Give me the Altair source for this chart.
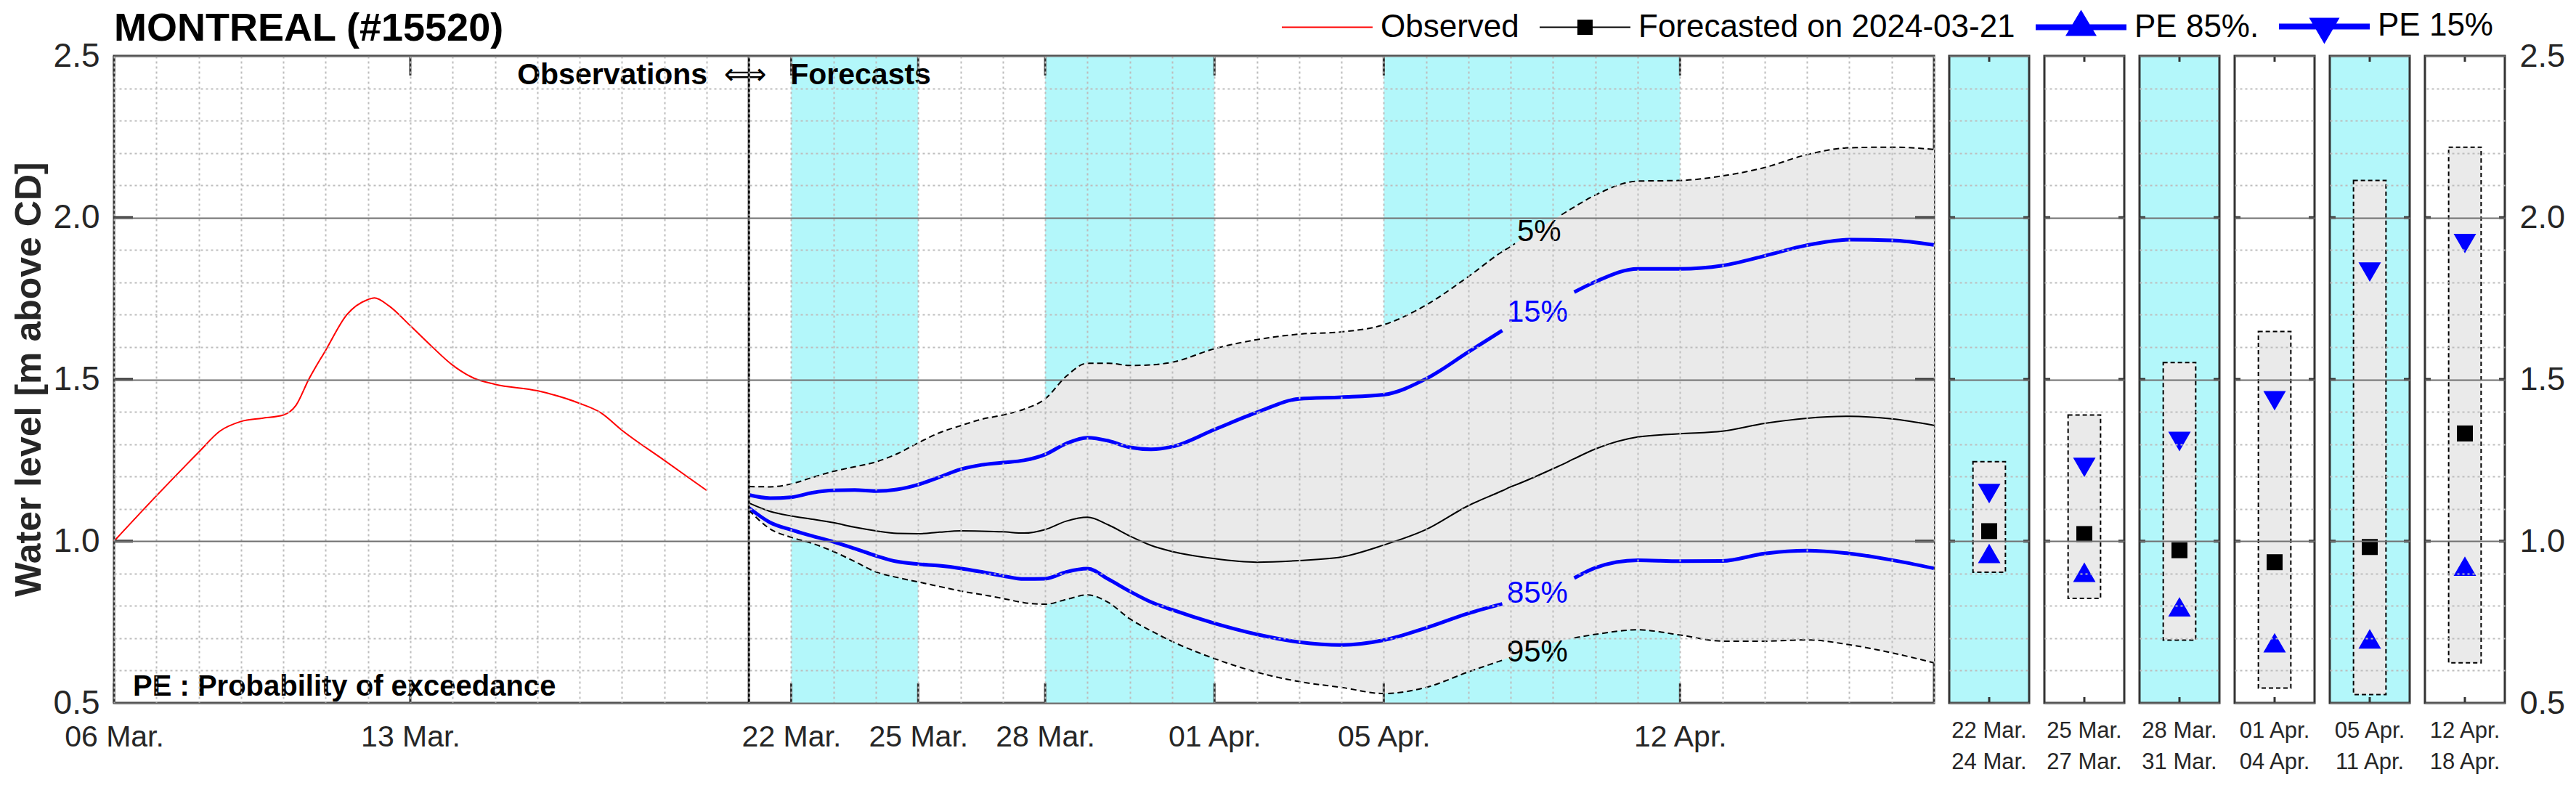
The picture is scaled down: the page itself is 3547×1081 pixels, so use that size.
import json
import altair as alt
import pandas as pd

# ---------------- data ----------------
START = "2024-03-06"          # day 0 of the time axis
FORECAST_DAY = 15             # 21 Mar (forecast issue date)

obs_day = [0, 1, 2, 2.5, 3, 3.5, 4, 4.3, 4.6, 5, 5.5, 6, 6.15, 6.5, 7, 7.5, 8, 8.5, 9, 10, 11, 11.5, 12, 13, 14]
obs_level = [1.00, 1.14, 1.275, 1.34, 1.37, 1.38, 1.39, 1.42, 1.50, 1.59, 1.70, 1.747, 1.752, 1.727, 1.666,
             1.603, 1.544, 1.504, 1.485, 1.465, 1.426, 1.397, 1.343, 1.25, 1.157]

fc_day = [15, 15.5, 16, 16.5, 17, 17.5, 18, 18.5, 19, 19.5, 20, 20.5, 21, 21.5, 22, 22.5, 23, 23.5, 24, 24.5, 25,
          26, 27, 28, 29, 30, 31, 32, 32.8, 33, 33.1, 34, 34.2, 34.5, 35, 36, 37, 38, 39, 40, 41, 42, 43]
pe5 = [1.169, 1.168, 1.177, 1.197, 1.216, 1.230, 1.245, 1.270, 1.304, 1.335, 1.357, 1.377, 1.390, 1.408, 1.440,
       1.510, 1.550, 1.550, 1.543, 1.545, 1.553, 1.595, 1.623, 1.640, 1.647, 1.669, 1.730, 1.818, 1.895, 1.911,
       1.920, 1.993, 2.009, 2.033, 2.070, 2.113, 2.115, 2.129, 2.155, 2.195, 2.216, 2.218, 2.211]
pe15 = [1.143, 1.133, 1.136, 1.150, 1.157, 1.158, 1.155, 1.160, 1.175, 1.198, 1.222, 1.236, 1.243, 1.250, 1.268,
        1.302, 1.320, 1.310, 1.290, 1.284, 1.292, 1.345, 1.398, 1.440, 1.445, 1.453, 1.502, 1.585, 1.651, 1.668,
        1.677, 1.740, 1.752, 1.770, 1.802, 1.842, 1.842, 1.852, 1.882, 1.915, 1.932, 1.930, 1.916]
pe50 = [1.118, 1.092, 1.078, 1.068, 1.057, 1.043, 1.032, 1.024, 1.023, 1.028, 1.032, 1.031, 1.029, 1.025, 1.036,
        1.062, 1.074, 1.050, 1.016, 0.987, 0.968, 0.946, 0.935, 0.940, 0.951, 0.988, 1.036, 1.110, 1.156, 1.168,
        1.173, 1.224, 1.236, 1.255, 1.285, 1.322, 1.332, 1.340, 1.364, 1.380, 1.386, 1.378, 1.358]
pe85 = [1.103, 1.058, 1.035, 1.016, 0.998, 0.977, 0.955, 0.937, 0.929, 0.924, 0.916, 0.905, 0.893, 0.883, 0.884,
        0.905, 0.915, 0.882, 0.845, 0.812, 0.788, 0.746, 0.712, 0.688, 0.679, 0.694, 0.732, 0.777, 0.806, 0.812,
        0.816, 0.855, 0.868, 0.886, 0.918, 0.941, 0.938, 0.939, 0.962, 0.971, 0.962, 0.942, 0.916]
pe95 = [1.096, 1.038, 1.012, 0.993, 0.968, 0.937, 0.905, 0.888, 0.874, 0.860, 0.846, 0.835, 0.823, 0.810, 0.805,
        0.820, 0.834, 0.810, 0.760, 0.723, 0.690, 0.637, 0.595, 0.566, 0.548, 0.529, 0.548, 0.596, 0.632, 0.642,
        0.647, 0.685, 0.692, 0.701, 0.712, 0.726, 0.710, 0.691, 0.691, 0.695, 0.680, 0.655, 0.624]

band_start_day = [16, 22, 30]
band_end_day = [19, 26, 37]

xtick_day = [0, 7, 16, 19, 22, 26, 30, 37]
xtick_label = ["06 Mar.", "13 Mar.", "22 Mar.", "25 Mar.", "28 Mar.", "01 Apr.", "05 Apr.", "12 Apr."]
major_levels = [1.0, 1.5, 2.0]
y_values = [round(0.5 + 0.1 * i, 1) for i in range(21)]

pct_label = ["5%", "15%", "85%", "95%"]
pct_day = [33.67, 33.63, 33.63, 33.63]
pct_level = [1.957, 1.707, 0.838, 0.658]
pct_color = ["black", "blue", "blue", "black"]

panel_label = ["22 Mar.|24 Mar.", "25 Mar.|27 Mar.", "28 Mar.|31 Mar.",
               "01 Apr.|04 Apr.", "05 Apr.|11 Apr.", "12 Apr.|18 Apr."]
panel_hi = [1.246, 1.390, 1.552, 1.648, 2.115, 2.218]
panel_lo = [0.904, 0.823, 0.694, 0.546, 0.526, 0.624]
panel_p15 = [1.147, 1.228, 1.308, 1.434, 1.832, 1.920]
panel_p50 = [1.031, 1.022, 0.972, 0.935, 0.982, 1.333]
panel_p85 = [0.962, 0.904, 0.797, 0.686, 0.698, 0.923]
panel_cyan = [True, False, True, False, True, False]

legend_labels = ["Observed", "Forecasted on 2024-03-21", "PE 85%.", "PE 15%"]
legend_colors = ["red", "black", "blue", "blue"]
title_text = "MONTREAL (#15520)"
ytitle_text = "Water level [m above CD]"

# ---------------- styles ----------------
FONT = "Liberation Sans, Arial, Helvetica, sans-serif"
CYAN = "#b3f7fa"
GREY = "#eaeaea"
FRAME = "#333333"
TXT = "#262626"
MINOR = "#bdbdbd"
MAJOR = "#707070"
W, H, PW = 2506, 891, 110

base_ts = pd.Timestamp(START, tz="UTC")


def ts(d):
    return int((base_ts + pd.Timedelta(days=d)).value // 1_000_000)


major_test = "abs(datum.value*2 - round(datum.value*2)) < 0.001"
grid_color = {"condition": {"test": major_test, "value": MAJOR}, "value": MINOR}
grid_dash = {"condition": {"test": major_test, "value": []}, "value": [3, 4]}
ylabel_expr = "abs(datum.value*2 - round(datum.value*2)) < 0.001 ? format(datum.value, '.1f') : ''"
xlabel_expr = ("indexof(%s, utcFormat(datum.value, '%%d %%b.')) >= 0 ? utcFormat(datum.value, '%%d %%b.') : ''"
               % json.dumps(xtick_label))

xscale = alt.Scale(type="utc", domain=[ts(0), ts(43)])
yscale = alt.Scale(domain=[0.5, 2.5], nice=False, zero=False)

xaxis = alt.Axis(values=[ts(d) for d in range(44)], labelExpr=xlabel_expr, grid=True, gridColor=MINOR,
                 gridDash=[3, 4], gridWidth=2, ticks=False, domain=False, title=None, labelFont=FONT,
                 labelFontSize=41, labelColor=TXT, labelPadding=27, labelFlush=False, labelOverlap=False,
                 labelAngle=0, zindex=1)
yaxis = alt.Axis(values=y_values, labelExpr=ylabel_expr, grid=True, gridColor=grid_color, gridDash=grid_dash,
                 gridWidth=2, ticks=False, domain=False, title=None, labelFont=FONT,
                 labelFontSize=46, labelColor=TXT, labelPadding=20, labelOverlap=False, zindex=1)


def X(f="t"):
    return alt.X(f + ":T", scale=xscale, axis=xaxis)


def Y(f="level"):
    return alt.Y(f + ":Q", scale=yscale, axis=yaxis)


def seg_frame(vals, gap=None):
    rows = []
    for d, v in zip(fc_day, vals):
        if gap and gap[0] < d < gap[1]:
            continue
        rows.append({"t": ts(d), "level": v, "seg": 1 if (gap and d >= gap[1]) else 0})
    return pd.DataFrame(rows)


# ---------------- main panel ----------------
bands_df = pd.DataFrame({"start": [ts(d) for d in band_start_day], "end": [ts(d) for d in band_end_day]})
bands = alt.Chart(bands_df).mark_rect(color=CYAN).encode(
    x=X("start"), x2="end:T", y=alt.value(0), y2=alt.value(H))

area_df = pd.DataFrame({"t": [ts(d) for d in fc_day], "lo": pe95, "hi": pe5})
area = alt.Chart(area_df).mark_area(color=GREY, interpolate="monotone").encode(x=X(), y=Y("lo"), y2="hi:Q")

obs_df = pd.DataFrame({"t": [ts(d) for d in obs_day], "level": obs_level})
obs_line = alt.Chart(obs_df).mark_line(color="red", strokeWidth=2, interpolate="monotone").encode(x=X(), y=Y())


def fline(vals, gap, color, width, dash=None):
    kw = dict(color=color, strokeWidth=width, interpolate="monotone")
    if dash:
        kw["strokeDash"] = dash
    return alt.Chart(seg_frame(vals, gap)).mark_line(**kw).encode(x=X(), y=Y(), detail="seg:N")


l5 = fline(pe5, (33.1, 34.2), "black", 2, [8, 5])
l95 = fline(pe95, (32.8, 34.5), "black", 2, [8, 5])
l15 = fline(pe15, (32.8, 34.5), "blue", 5)
l85 = fline(pe85, (32.8, 34.5), "blue", 5)
l50 = fline(pe50, None, "black", 2)

fc0 = pd.DataFrame({"t": [ts(FORECAST_DAY)]})
boundary = alt.Chart(fc0).mark_rule(color="black", strokeWidth=3).encode(x=X())

xt_df = pd.DataFrame({"t": [ts(d) for d in xtick_day]})
xt_top = alt.Chart(xt_df).mark_rule(color=FRAME, strokeWidth=3).encode(x=X(), y=alt.value(0), y2=alt.value(27))
xt_bot = alt.Chart(xt_df).mark_rule(color=FRAME, strokeWidth=3).encode(x=X(), y=alt.value(H - 27), y2=alt.value(H))
yt_df = pd.DataFrame({"level": major_levels})
yt_l = alt.Chart(yt_df).mark_rule(color=FRAME, strokeWidth=4).encode(y=Y(), x=alt.value(0), x2=alt.value(26))
yt_r = alt.Chart(yt_df).mark_rule(color=FRAME, strokeWidth=4).encode(y=Y(), x=alt.value(W - 26), x2=alt.value(W))

pct_layers = []
for lab, d, v, c in zip(pct_label, pct_day, pct_level, pct_color):
    df = pd.DataFrame({"t": [ts(d)], "level": [v], "label": [lab]})
    pct_layers.append(alt.Chart(df).mark_text(font=FONT, fontSize=42, color=c, align="center",
                                              baseline="middle").encode(x=X(), y=Y(), text="label:N"))

txt_obs = alt.Chart(fc0).mark_text(text="Observations", font=FONT, fontSize=41, fontWeight="bold", color="black",
                                   align="right", baseline="alphabetic", dx=-57).encode(x=X(), y=alt.value(39))
txt_arrow = alt.Chart(fc0).mark_text(text="\u27fa", font="DejaVu Sans", fontSize=41, color="black",
                                     align="center", baseline="alphabetic", dx=-5).encode(x=X(), y=alt.value(39))
txt_fc = alt.Chart(fc0).mark_text(text="Forecasts", font=FONT, fontSize=41, fontWeight="bold", color="black",
                                  align="left", baseline="alphabetic", dx=57).encode(x=X(), y=alt.value(39))
one = pd.DataFrame({"a": [0]})
pe_note = alt.Chart(one).mark_text(
    text="PE : Probability of exceedance", font=FONT, fontSize=40, fontWeight="bold", color="black",
    align="left", baseline="alphabetic").encode(x=alt.value(26), y=alt.value(H - 10))
title_mark = alt.Chart(one).mark_text(
    text=title_text, font=FONT, fontSize=54, fontWeight="bold", color="black",
    align="left", baseline="alphabetic").encode(x=alt.value(0), y=alt.value(-21))
ytitle_mark = alt.Chart(one).mark_text(
    text=ytitle_text, font=FONT, fontSize=50, fontWeight="bold", color=TXT, angle=270,
    align="center", baseline="alphabetic").encode(x=alt.value(-101), y=alt.value(H / 2))

# legend symbols (custom paths: line + marker), unit r = 22 px
L = 2.841
legend_shapes = [
    f"M{-L},-0.045H{L}V0.045H{-L}Z",
    f"M{-L},-0.045H{L}V0.045H{-L}Z M-0.477,-0.477H0.477V0.477H-0.477Z",
    f"M{-L},-0.182H{L}V0.182H{-L}Z M0,-1.091L0.977,0.545L-0.977,0.545Z",
    f"M{-L},-0.182H{L}V0.182H{-L}Z M-0.955,-0.545L0.955,-0.545L0,1.091Z",
]
leg = alt.Legend(title=None, orient="none", legendX=1648.5, legendY=-63, direction="horizontal",
                 symbolSize=1936, symbolStrokeWidth=0, labelFont=FONT, labelFontSize=44, labelColor="black",
                 labelOffset=51.5, columnPadding=27, labelLimit=0, padding=0, symbolOpacity=1)
leg_df = pd.DataFrame({"series": legend_labels, "t": [None] * 4, "level": [None] * 4})
legend_layer = alt.Chart(leg_df).mark_point(filled=True, opacity=1).encode(
    x=X(), y=Y(),
    color=alt.Color("series:N", scale=alt.Scale(domain=legend_labels, range=legend_colors), legend=leg),
    shape=alt.Shape("series:N", scale=alt.Scale(domain=legend_labels, range=legend_shapes), legend=leg),
)

main = alt.layer(bands, area, obs_line, l5, l95, l15, l85, l50, boundary, xt_top, xt_bot, yt_l, yt_r,
                 *pct_layers, txt_obs, txt_arrow, txt_fc, pe_note, title_mark, ytitle_mark,
                 legend_layer).properties(
    width=W, height=H,
    view=alt.ViewBackground(fill="white", stroke=FRAME, strokeWidth=3),
)

# ---------------- period panels ----------------
panels = []
for i in range(6):
    pdf = pd.DataFrame({"period": [panel_label[i]], "hi": [panel_hi[i]], "lo": [panel_lo[i]],
                        "p15": [panel_p15[i]], "p50": [panel_p50[i]], "p85": [panel_p85[i]]})
    last = i == 5
    ya = alt.Axis(values=y_values, grid=True, gridColor=grid_color, gridDash=grid_dash, gridWidth=2,
                  ticks=False, domain=False, title=None, labels=last, labelExpr=ylabel_expr, labelFont=FONT,
                  labelFontSize=45, labelColor=TXT, labelPadding=20, labelOverlap=False,
                  orient="right" if last else "left", zindex=1)
    PX = alt.X("period:N", scale=alt.Scale(paddingInner=0, paddingOuter=0.73),
               axis=alt.Axis(title=None, labelExpr="split(datum.label, '|')", labelAngle=0, labelFont=FONT,
                             labelFontSize=31, labelLineHeight=43, labelColor=TXT, labelPadding=23,
                             grid=False, ticks=False, domain=False, zindex=1))

    def PY(f, ya=ya):
        return alt.Y(f + ":Q", scale=yscale, axis=ya)

    b = alt.Chart(pdf)
    box = b.mark_bar(fill=GREY, stroke="black", strokeDash=[6, 4], strokeWidth=2).encode(
        x=PX, y=PY("lo"), y2="hi:Q")
    med = b.mark_point(shape="square", filled=True, size=484, color="black", opacity=1).encode(x=PX, y=PY("p50"))
    up = b.mark_point(shape="triangle-up", filled=True, size=961, color="blue", opacity=1).encode(
        x=PX, y=PY("p85"))
    dn = b.mark_point(shape="triangle-down", filled=True, size=961, color="blue", opacity=1).encode(
        x=PX, y=PY("p15"))
    tt = b.mark_rule(color=FRAME, strokeWidth=3).encode(x=PX, y=alt.value(0), y2=alt.value(8))
    tb = b.mark_rule(color=FRAME, strokeWidth=3).encode(x=PX, y=alt.value(H - 8), y2=alt.value(H))
    ytd = alt.Chart(pd.DataFrame({"level": major_levels}))
    tl = ytd.mark_rule(color=FRAME, strokeWidth=4).encode(y=PY("level"), x=alt.value(0), x2=alt.value(8))
    tr = ytd.mark_rule(color=FRAME, strokeWidth=4).encode(y=PY("level"), x=alt.value(PW - 8), x2=alt.value(PW))
    panels.append(alt.layer(box, tl, tr, tt, tb, med, up, dn).properties(
        width=PW, height=H,
        view=alt.ViewBackground(fill=CYAN if panel_cyan[i] else "white", stroke=FRAME, strokeWidth=3)))

chart = alt.hconcat(main, *panels, spacing=21, bounds="flush").properties(
    padding={"left": 6, "top": 3, "right": 0, "bottom": 0}
).configure_view(stroke=FRAME, strokeWidth=3)

chart.save("out.html", embed_options={"renderer": "svg", "actions": False})
